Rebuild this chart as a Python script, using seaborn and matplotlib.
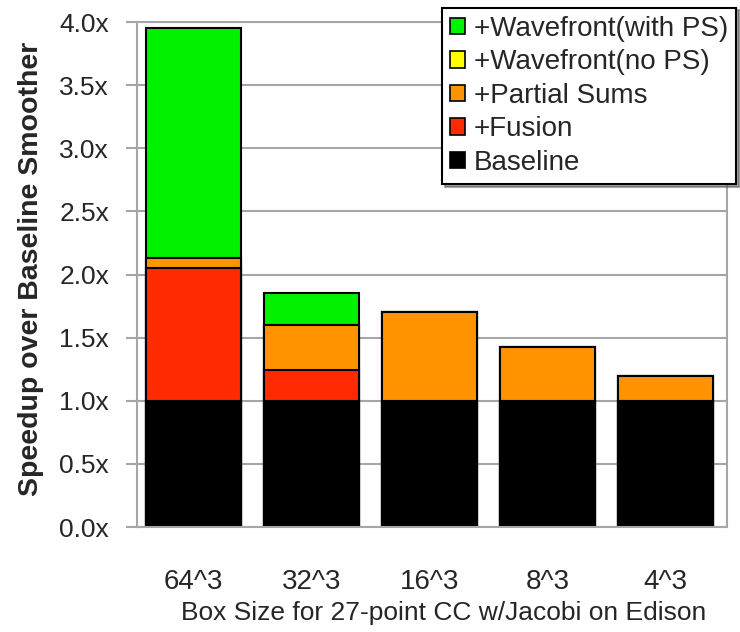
import matplotlib
matplotlib.use("Agg")
import matplotlib.pyplot as plt
from matplotlib.patches import Patch
import numpy as np
import seaborn as sns

sizes = ["64^3", "32^3", "16^3", "8^3", "4^3"]
baseline = np.array([1.0, 1.0, 1.0, 1.0, 1.0])
fusion = np.array([1.05, 0.245, 0.0, 0.0, 0.0])
partial_sums = np.array([0.08, 0.355, 0.70, 0.425, 0.20])
wavefront_nops = np.array([0.0, 0.0, 0.0, 0.0, 0.0])
wavefront_ps = np.array([1.82, 0.255, 0.0, 0.0, 0.0])

layers = ["+Wavefront(with PS)", "+Wavefront(no PS)", "+Partial Sums", "+Fusion", "Baseline"]
colors = ["#00F200", "#FFFF00", "#FF9400", "#FF2A00", "#000000"]

sns.set_style("white")
plt.rcParams["font.family"] = ["Liberation Sans", "DejaVu Sans"]

fig = plt.figure(figsize=(7.4, 6.32), dpi=100)
ax = fig.add_axes([0.185, 0.166, 0.797, 0.799])

# cumulative tops, drawn tallest first so each lower layer covers the one above
stack = [baseline, fusion, partial_sums, wavefront_nops, wavefront_ps]
cum = np.cumsum(stack, axis=0)
for k in range(len(stack) - 1, -1, -1):
    sns.barplot(x=sizes, y=cum[k], order=sizes, color=colors[len(stack) - 1 - k],
                edgecolor="black", linewidth=1.5, width=0.81, errorbar=None,
                saturation=1, ax=ax)

ax.set_ylim(0, 4.0)
ax.set_xlim(-0.48, 4.52)
yt = np.arange(0, 4.01, 0.5)
ax.set_yticks(yt)
ax.set_yticklabels(["%.1fx" % v for v in yt], fontsize=19)
ax.tick_params(axis="y", direction="out", length=8, width=1.5, color="#A6A6A6", pad=12, left=True)
ax.tick_params(axis="x", length=0, pad=30, labelsize=20)
ax.yaxis.grid(True, color="#A6A6A6", linewidth=1.5)
ax.set_axisbelow(True)
for s in ax.spines.values():
    s.set_color("#A6A6A6")
    s.set_linewidth(1.5)

ax.set_ylabel("Speedup over Baseline Smoother", fontsize=20.5, fontweight="bold")
ax.yaxis.set_label_coords(-0.158, 0.512)
ax.set_xlabel("Box Size for 27-point CC w/Jacobi on Edison", fontsize=19)
ax.xaxis.set_label_coords(0.52, -0.147)

handles = [Patch(facecolor=c, edgecolor="black", linewidth=1.2) for c in colors]
leg = fig.legend(handles, layers, loc="upper right", bbox_to_anchor=(0.995, 0.988),
                 fontsize=20, frameon=True, fancybox=False, shadow=True,
                 handlelength=0.55, handleheight=0.55, handletextpad=0.3,
                 labelspacing=0.27, borderpad=0.3, borderaxespad=0)
leg.get_frame().set_edgecolor("black")
leg.get_frame().set_linewidth(1.5)

plt.savefig("out.png", dpi=100)
plt.close()
